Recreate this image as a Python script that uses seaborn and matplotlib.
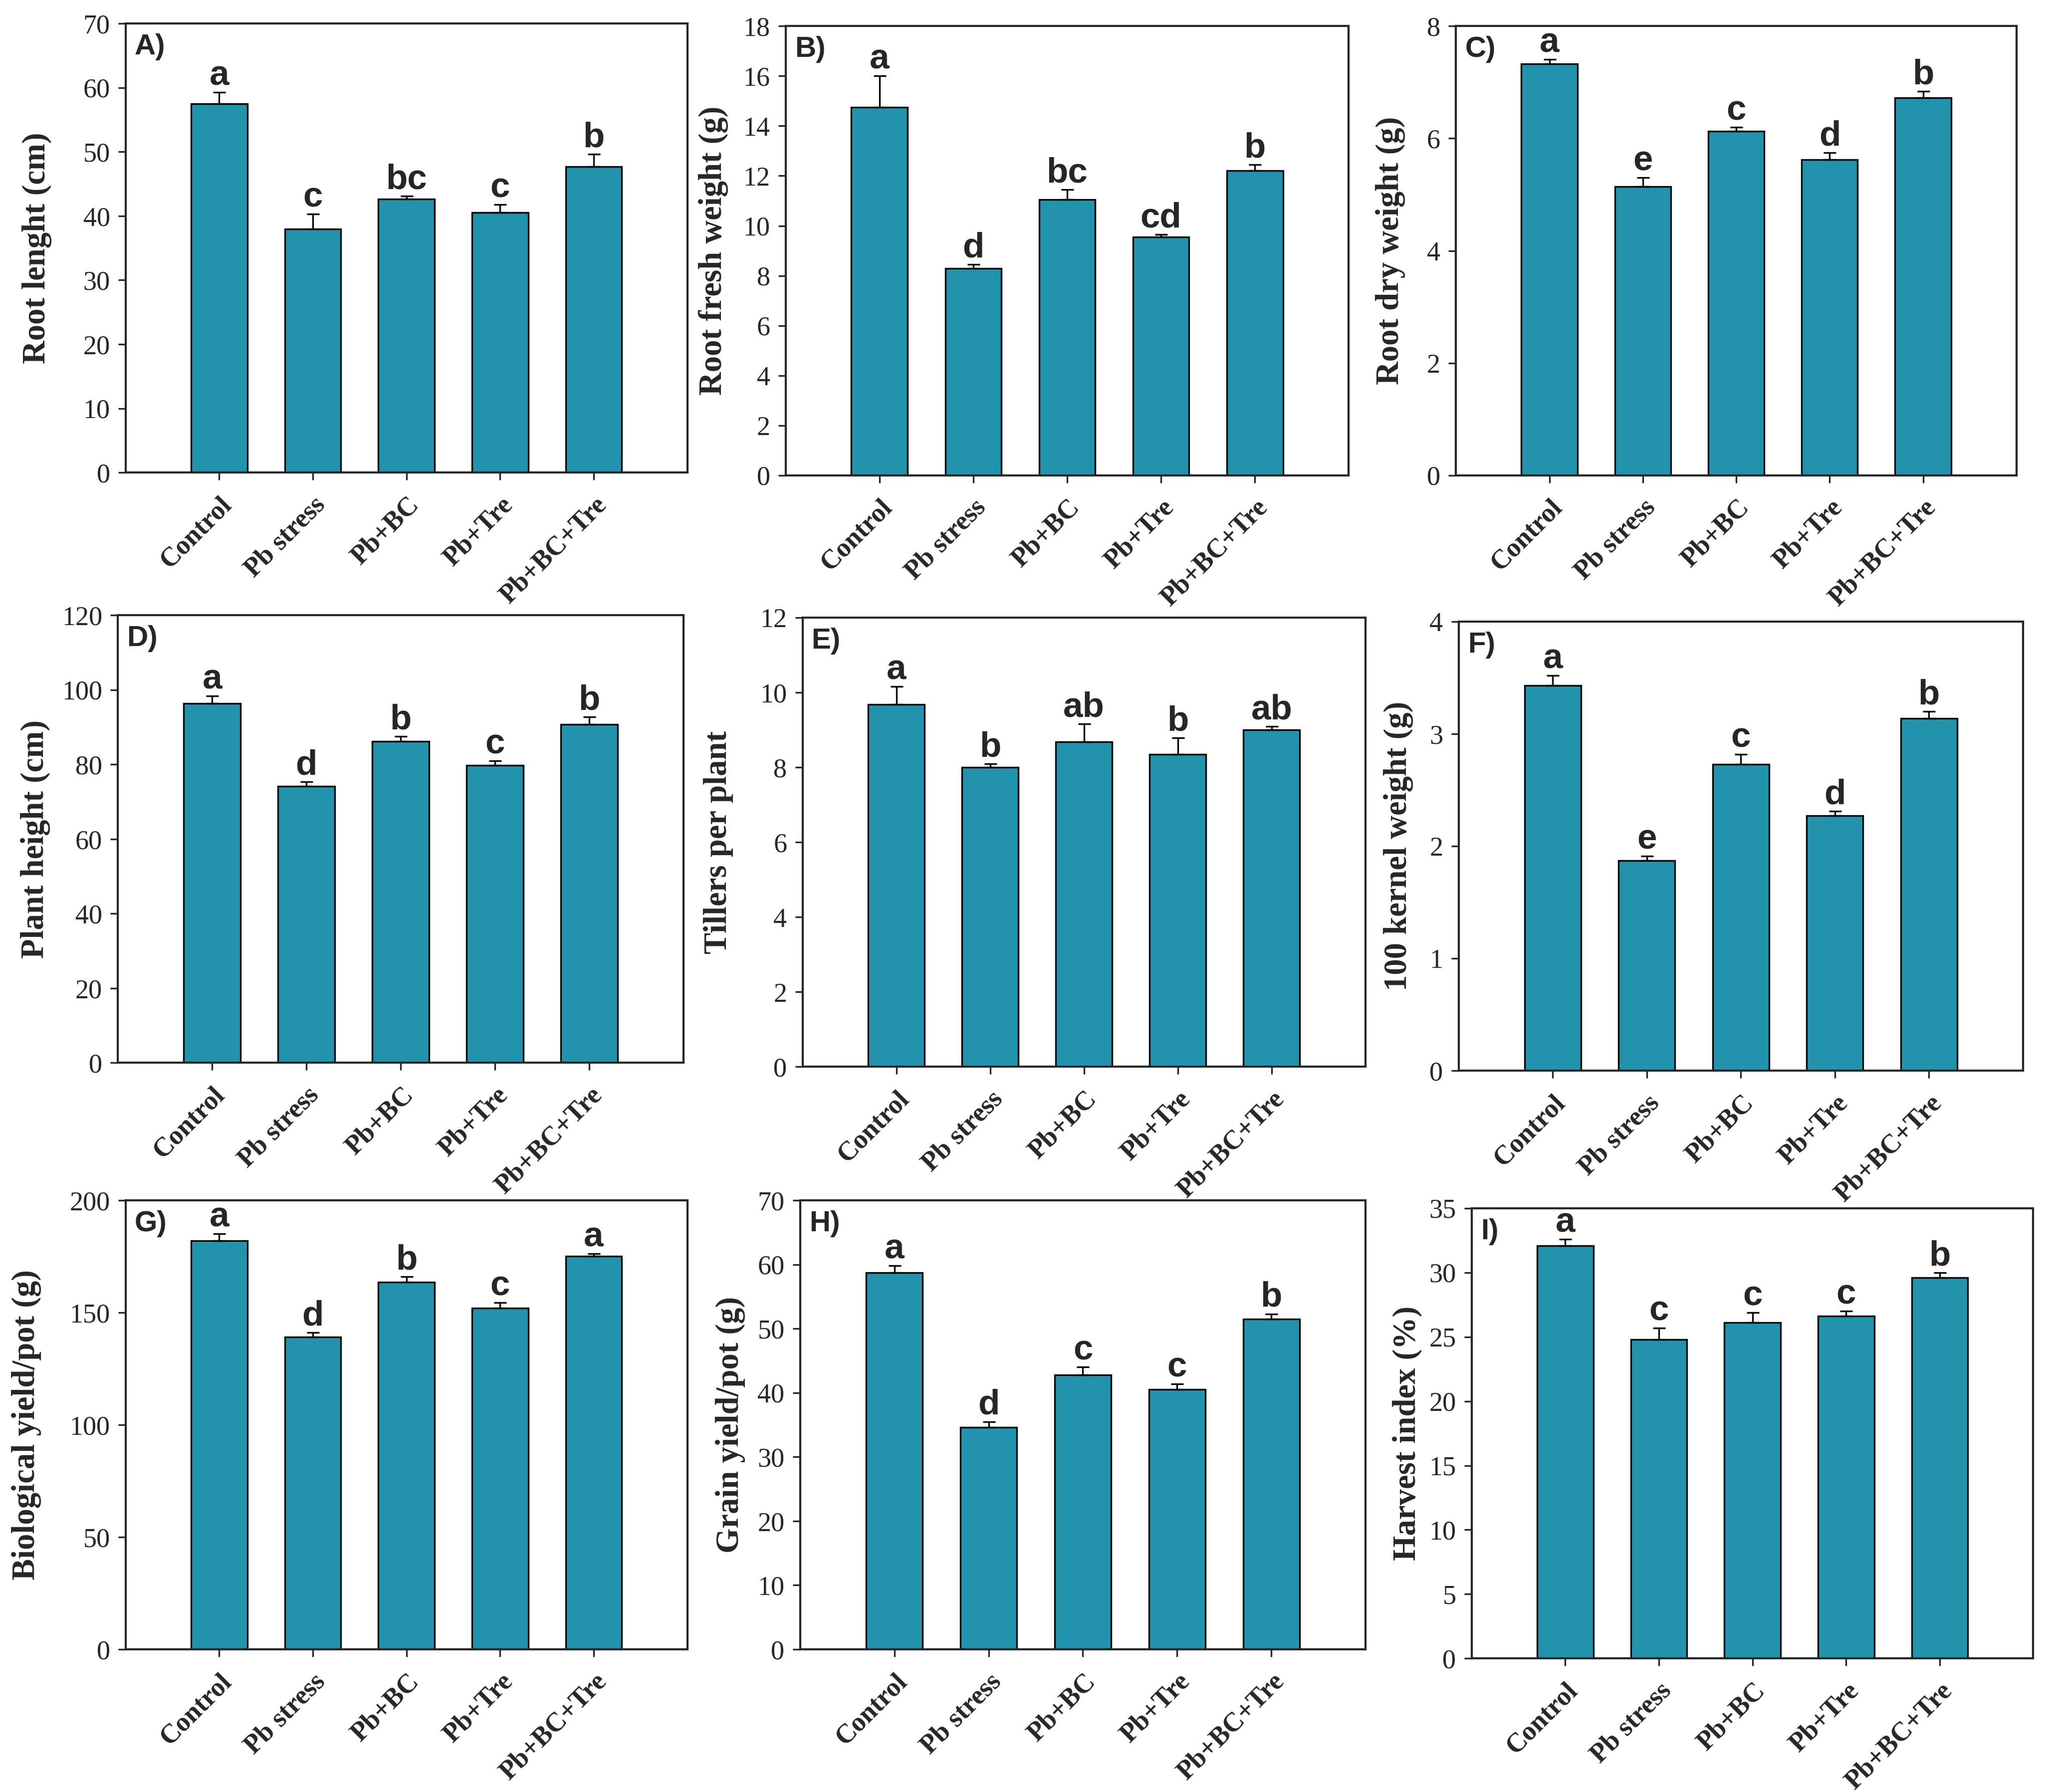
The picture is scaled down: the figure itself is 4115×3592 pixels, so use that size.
import matplotlib
matplotlib.use("Agg")
import matplotlib.pyplot as plt
import seaborn as sns

sns.set_style("ticks")
plt.rcParams["font.family"] = ["Liberation Serif", "DejaVu Serif"]
plt.rcParams["axes.linewidth"] = 1.0

BAR = "#2193ad"
SANS = ["Liberation Sans", "DejaVu Sans"]

treatments = ["Control", "Pb stress", "Pb+BC", "Pb+Tre", "Pb+BC+Tre"]

# values (mean, SE, letters)
root_length = [57.5, 38.0, 42.6, 40.5, 47.7]
root_length_se = [1.8, 2.3, 0.5, 1.3, 1.9]
root_length_let = ["a", "c", "bc", "c", "b"]

root_fresh = [14.75, 8.3, 11.05, 9.55, 12.2]
root_fresh_se = [1.25, 0.15, 0.4, 0.1, 0.25]
root_fresh_let = ["a", "d", "bc", "cd", "b"]

root_dry = [7.33, 5.14, 6.13, 5.62, 6.72]
root_dry_se = [0.08, 0.16, 0.07, 0.13, 0.12]
root_dry_let = ["a", "e", "c", "d", "b"]

plant_height = [96.3, 74.2, 86.2, 79.8, 90.7]
plant_height_se = [2.0, 1.2, 1.3, 1.2, 2.0]
plant_height_let = ["a", "d", "b", "c", "b"]

tillers = [9.68, 8.0, 8.68, 8.35, 9.0]
tillers_se = [0.48, 0.1, 0.48, 0.44, 0.1]
tillers_let = ["a", "b", "ab", "b", "ab"]

kernel_wt = [3.43, 1.87, 2.73, 2.27, 3.14]
kernel_wt_se = [0.09, 0.04, 0.09, 0.04, 0.06]
kernel_wt_let = ["a", "e", "c", "d", "b"]

bio_yield = [182.0, 139.0, 163.5, 152.0, 175.0]
bio_yield_se = [3.0, 2.0, 2.5, 2.5, 1.2]
bio_yield_let = ["a", "d", "b", "c", "a"]

grain_yield = [58.7, 34.6, 42.8, 40.5, 51.5]
grain_yield_se = [1.1, 0.9, 1.2, 0.9, 0.8]
grain_yield_let = ["a", "d", "c", "c", "b"]

harvest_idx = [32.1, 24.8, 26.1, 26.6, 29.6]
harvest_idx_se = [0.5, 0.9, 0.8, 0.4, 0.4]
harvest_idx_let = ["a", "c", "c", "c", "b"]

panels = [
    ("A)", "Root lenght (cm)", root_length, root_length_se, root_length_let, 70, 10,
     [0.0612, 0.7363, 0.2736, 0.2506], -0.158),
    ("B)", "Root fresh weight (g)", root_fresh, root_fresh_se, root_fresh_let, 18, 2,
     [0.3827, 0.7348, 0.2742, 0.2506], -0.128),
    ("C)", "Root dry weight (g)", root_dry, root_dry_se, root_dry_let, 8, 2,
     [0.7092, 0.7348, 0.2730, 0.2506], -0.117),
    ("D)", "Plant height (cm)", plant_height, plant_height_se, plant_height_let, 120, 20,
     [0.0574, 0.4069, 0.2755, 0.2498], -0.146),
    ("E)", "Tillers per plant", tillers, tillers_se, tillers_let, 12, 2,
     [0.3909, 0.4047, 0.2742, 0.2506], -0.149),
    ("F)", "100 kernel weight (g)", kernel_wt, kernel_wt_se, kernel_wt_let, 4, 1,
     [0.7105, 0.4025, 0.2749, 0.2506], -0.107),
    ("G)", "Biological yield/pot (g)", bio_yield, bio_yield_se, bio_yield_let, 200, 50,
     [0.0612, 0.0796, 0.2736, 0.2506], -0.177),
    ("H)", "Grain yield/pot (g)", grain_yield, grain_yield_se, grain_yield_let, 70, 10,
     [0.3897, 0.0796, 0.2755, 0.2506], -0.123),
    ("I)", "Harvest index (%)", harvest_idx, harvest_idx_se, harvest_idx_let, 35, 5,
     [0.7168, 0.0745, 0.2736, 0.2513], -0.114),
]

fig = plt.figure(figsize=(4115 / 300, 3592 / 300), dpi=300)

for tag, ylab, vals, se, lets, ymax, step, pos, labx in panels:
    ax = fig.add_axes(pos)
    sns.barplot(x=treatments, y=vals, color=BAR, saturation=1, width=0.6,
                edgecolor="black", linewidth=0.8, errorbar=None, ax=ax)
    ax.errorbar(range(len(vals)), vals, yerr=[[0] * len(se), se], fmt="none",
                ecolor="black", elinewidth=0.8, capsize=3, capthick=0.8)
    for i, (v, e, l) in enumerate(zip(vals, se, lets)):
        ax.annotate(l, xy=(i, v + e), xytext=(0, 3.5), textcoords="offset points",
                    ha="center", va="baseline", fontsize=17, fontweight="bold",
                    family=SANS)

    ax.set_xlim(-1, 5)
    ax.set_ylim(0, ymax)
    ax.set_yticks(range(0, ymax + 1, step))
    ax.set_xticks(range(len(treatments)))
    ax.set_xticklabels(treatments, rotation=45, ha="right", rotation_mode="anchor",
                       fontweight="bold", fontsize=13)
    ax.tick_params(axis="y", direction="out", length=3.5, width=0.8, pad=4, labelsize=13)
    ax.tick_params(axis="x", direction="out", length=3.5, width=0.8, pad=6)
    for s in ax.spines.values():
        s.set_visible(True)
        s.set_linewidth(1.0)
    ax.set_xlabel("")
    ax.set_ylabel(ylab, fontsize=15.5, fontweight="bold", va="center")
    ax.yaxis.set_label_coords(labx, 0.5)
    ax.text(0.016, 0.978, tag, transform=ax.transAxes, ha="left", va="top",
            fontsize=14, fontweight="bold", family=SANS)

fig.savefig("out.png", dpi=300)
